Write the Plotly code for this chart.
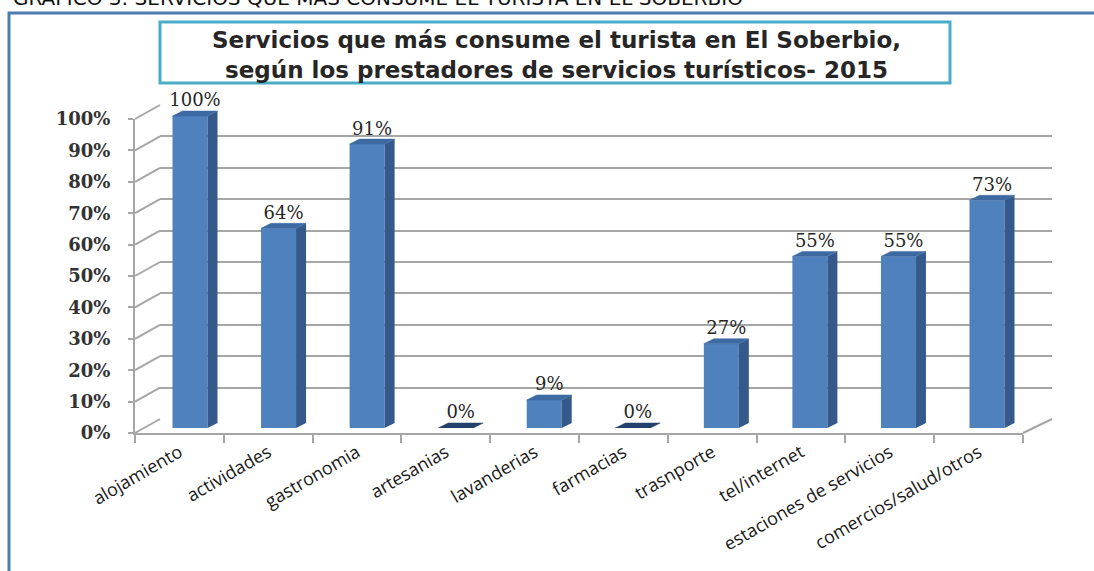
import plotly.graph_objects as go

# data
categories = [
    "alojamiento", "actividades", "gastronomia", "artesanias", "lavanderias",
    "farmacias", "trasnporte", "tel/internet", "estaciones de servicios",
    "comercios/salud/otros",
]
values = [1.00, 0.64, 0.91, 0.00, 0.09, 0.00, 0.27, 0.55, 0.55, 0.73]
y_ticks = [i / 10 for i in range(11)]

title_lines = [
    "Servicios que más consume el turista en El Soberbio,",
    "según los prestadores de servicios turísticos- 2015",
]
caption = "GRÁFICO 3: SERVICIOS QUE MÁS CONSUME EL TURISTA EN EL SOBERBIO"

W, H = 1094, 571


def px(x):
    return x / W


def py(y):
    return 1 - y / H


# pixel geometry of the fake 3D box
FX0, FX1, FY0, FY1 = 135, 1023, 433, 119   # front axis (0% / 100%)
BX0, BX1, BY0, BY1 = 160, 1052, 419, 105   # back wall
BAR_Y0, BAR_Y1 = 428, 116                  # bars: 0 and 1
BAR_C0, BAR_C9 = 190, 987                  # first / last bar centre
step = (BAR_C9 - BAR_C0) / 9
bar_x0, bar_x1 = BAR_C0 - step / 2, BAR_C9 + step / 2
bar_top = 1.1
bar_ytop_px = BAR_Y0 - bar_top * (BAR_Y0 - BAR_Y1)

FRONT = "#4f81bd"
SIDE = "#34598a"
TOP = "#3d6aa2"
GRID = "#a6a6a6"

w = 35 / step          # bar front width in data units
dx = 10 / step          # depth offset
dy = 5 / (BAR_Y0 - BAR_Y1)

idx = list(range(len(categories)))

fig = go.Figure()

# front axes (labels only)
fig.add_trace(go.Scatter(x=categories, y=values, mode="markers", marker=dict(opacity=0),
                         hoverinfo="skip", showlegend=False, xaxis="x", yaxis="y"))
# back wall (gridlines only)
fig.add_trace(go.Scatter(x=idx, y=values, mode="markers", marker=dict(opacity=0),
                         hoverinfo="skip", showlegend=False, xaxis="x2", yaxis="y2"))

# bars
fig.add_trace(go.Bar(x=idx, y=values, width=w, marker=dict(color=FRONT, line=dict(width=0)),
                     hoverinfo="skip", showlegend=False, xaxis="x3", yaxis="y3"))
for i, v in zip(idx, values):
    r = i + w / 2
    l = i - w / 2
    fig.add_trace(go.Scatter(
        x=[r, r + dx, r + dx, r, r], y=[0, dy, v + dy, v, 0],
        fill="toself", fillcolor=SIDE, mode="lines", line=dict(width=0, color=SIDE),
        hoverinfo="skip", showlegend=False, xaxis="x3", yaxis="y3"))
    fig.add_trace(go.Scatter(
        x=[l, l + dx, r + dx, r, l], y=[v, v + dy, v + dy, v, v],
        fill="toself", fillcolor=TOP if v > 0 else "#22416b", mode="lines",
        line=dict(width=0.5, color=TOP if v > 0 else "#22416b"),
        hoverinfo="skip", showlegend=False, xaxis="x3", yaxis="y3"))

fig.add_trace(go.Scatter(
    x=[i + dx / 2 for i in idx], y=[v + dy for v in values], mode="text",
    text=[f"{round(v * 100)}%" for v in values], textposition="top center",
    textfont=dict(family="DejaVu Serif", size=18, color="#262626"),
    cliponaxis=False, hoverinfo="skip", showlegend=False, xaxis="x3", yaxis="y3"))

shapes = [
    dict(type="rect", xref="paper", yref="paper", x0=px(9), x1=px(1120), y0=py(13), y1=py(600),
         line=dict(color="#4f7cb0", width=3), layer="below"),
    dict(type="rect", xref="paper", yref="paper", x0=px(160), x1=px(950), y0=py(22), y1=py(83),
         line=dict(color="#4bacc6", width=3), fillcolor="white", layer="below"),
]
for t in y_ticks:
    fy = FY0 - t * (FY0 - FY1)
    by = BY0 - t * (BY0 - BY1)
    shapes.append(dict(type="line", xref="paper", yref="paper", x0=px(FX0), x1=px(BX0),
                       y0=py(fy), y1=py(by), line=dict(color=GRID, width=2), layer="below"))
shapes.append(dict(type="line", xref="paper", yref="paper", x0=px(FX1), x1=px(BX1),
                   y0=py(FY0), y1=py(BY0), line=dict(color=GRID, width=2), layer="below"))

annotations = [
    dict(text="<b>" + "<br>".join(title_lines) + "</b>", x=px(556), y=py(55),
         xref="paper", yref="paper", showarrow=False, xanchor="center", yanchor="middle",
         font=dict(family="DejaVu Sans", size=23, color="#262626")),
    dict(text=caption, x=px(745), y=py(12), xref="paper", yref="paper", showarrow=False,
         xanchor="right", yanchor="bottom",
         font=dict(family="DejaVu Sans", size=20, color="#111111")),
]

fig.update_layout(
    width=W, height=H,
    margin=dict(l=0, r=0, t=0, b=0),
    paper_bgcolor="white", plot_bgcolor="rgba(0,0,0,0)",
    shapes=shapes, annotations=annotations,
    xaxis=dict(
        domain=[px(FX0), px(FX1)], anchor="y", type="category", automargin=False,
        categoryorder="array", categoryarray=categories, range=[-0.5, 9.5],
        tickson="boundaries", ticks="outside", ticklen=8, tickcolor=GRID, tickwidth=2,
        showline=True, linecolor=GRID, linewidth=2, showgrid=False, zeroline=False,
        tickangle=-30, tickfont=dict(family="Open Sans", size=18, color="#1a1a1a"),
        fixedrange=True,
    ),
    yaxis=dict(
        domain=[py(FY0), py(FY1)], anchor="x", range=[0, 1], tickvals=y_ticks,
        automargin=False,
        tickformat=".0%", ticks="outside", ticklen=5, tickcolor=GRID, tickwidth=2,
        showline=True, linecolor=GRID, linewidth=2, showgrid=False, zeroline=False,
        ticklabelstandoff=14,
        tickfont=dict(family="DejaVu Serif", size=18, color="#333333", weight="bold"),
        fixedrange=True,
    ),
    xaxis2=dict(domain=[px(BX0), px(BX1)], anchor="y2", range=[-0.5, 9.5], automargin=False,
                showticklabels=False, showgrid=False, zeroline=False, ticks=""),
    yaxis2=dict(domain=[py(BY0), py(BY1)], anchor="x2", range=[0, 1], tickvals=y_ticks,
                automargin=False, showticklabels=False, showgrid=True, gridcolor=GRID,
                gridwidth=2, zeroline=False, ticks=""),
    xaxis3=dict(domain=[px(bar_x0), px(bar_x1)], anchor="y3", range=[-0.5, 9.5],
                automargin=False, showticklabels=False, showgrid=False, zeroline=False,
                ticks=""),
    yaxis3=dict(domain=[py(BAR_Y0), py(bar_ytop_px)], anchor="x3", range=[0, bar_top],
                automargin=False, showticklabels=False, showgrid=False, zeroline=False,
                ticks=""),
)

# drop the default 8px page margin so the figure sits at the window corner
fig.write_html("out.html", config={"displayModeBar": False},
               post_script="document.body.style.margin='0';")
